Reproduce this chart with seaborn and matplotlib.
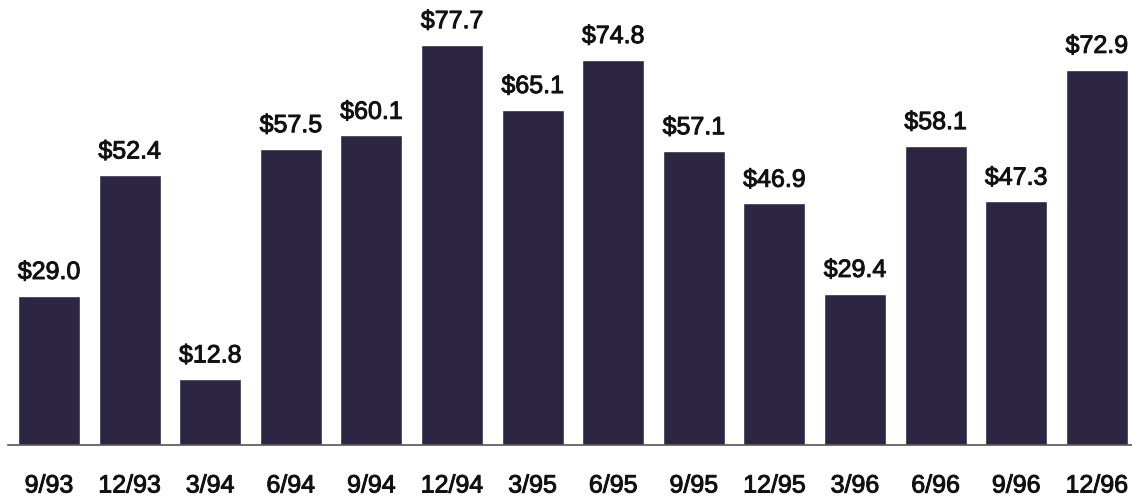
import pandas as pd
import matplotlib.pyplot as plt
import matplotlib.patheffects as pe
import seaborn as sns

sns.set_theme(style="white")
plt.rcParams['font.family'] = ['Liberation Sans', 'DejaVu Sans']

# Quarter-end labels and values (in $ millions)
quarters = ['9/93', '12/93', '3/94', '6/94', '9/94', '12/94', '3/95',
            '6/95', '9/95', '12/95', '3/96', '6/96', '9/96', '12/96']
values = [29.0, 52.4, 12.8, 57.5, 60.1, 77.7, 65.1,
          74.8, 57.1, 46.9, 29.4, 58.1, 47.3, 72.9]

df = pd.DataFrame({'Quarter': quarters, 'Value': values})

fig = plt.figure(figsize=(11.32, 5.0), dpi=100)
ax = fig.add_axes([8 / 1132, 55 / 500, 1 - 8 / 1132, 445 / 500])

sns.barplot(data=df, x='Quarter', y='Value', order=quarters,
            color='#2c2642', saturation=1, width=0.77, ax=ax)

# slightly heavier text, like the scanned original
heavy = [pe.withStroke(linewidth=0.7, foreground='#111111')]

# Value labels above each bar
for i, v in enumerate(values):
    ax.annotate(f'${v:.1f}', (i, v), textcoords='offset points',
                xytext=(0, 12), ha='center', va='baseline',
                fontsize=18, color='#111111', path_effects=heavy)

ax.set_xlim(-0.509, 13.437)
ax.set_ylim(0, 86.4)
ax.set_xlabel('')
ax.set_ylabel('')
ax.set_yticks([])
ax.tick_params(axis='x', length=0, pad=20.5, labelsize=18, labelcolor='#111111')
for lbl in ax.get_xticklabels():
    lbl.set_path_effects(heavy)

for side in ['top', 'right', 'left']:
    ax.spines[side].set_visible(False)
ax.spines['bottom'].set_color('#555555')
ax.spines['bottom'].set_linewidth(1.2)

plt.savefig('out.png', dpi=100)
